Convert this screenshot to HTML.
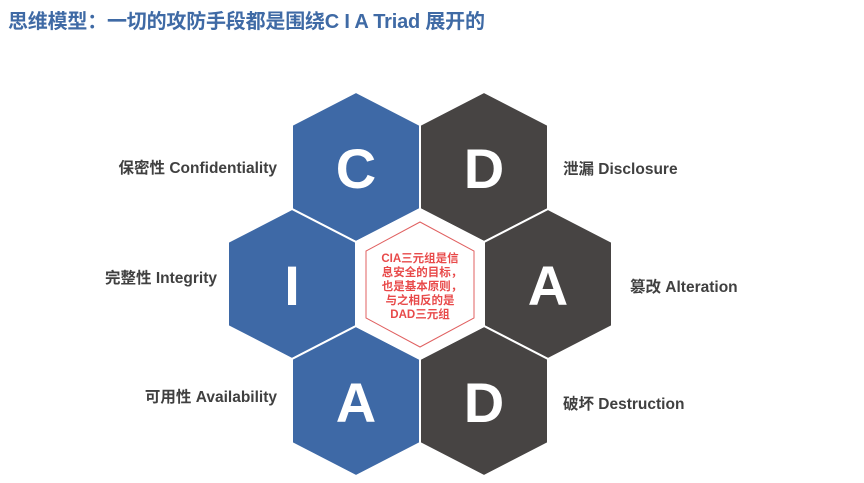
<!DOCTYPE html>
<html><head><meta charset="utf-8"><style>
body{margin:0;width:864px;height:483px;background:#fff;overflow:hidden;font-family:"Liberation Sans","Noto Sans CJK SC",sans-serif}
.t{position:absolute;left:8px;top:5px;font-size:20px;color:#3f6aa5;white-space:nowrap;letter-spacing:-0.2px;font-weight:bold}
svg{position:absolute;left:0;top:0}
</style></head><body>
<div class="t">思维模型：一切的攻防手段都是围绕C I A Triad 展开的</div>
<svg width="864" height="483" viewBox="0 0 864 483">
<defs>
<polygon id="h" points="0,-75 64,-42 64,42 0,75 -64,42 -64,-42"/>
</defs>
<g stroke="#fff" stroke-width="2">
<use href="#h" x="356" y="167" fill="#3e69a6"/>
<use href="#h" x="484" y="167" fill="#474443"/>
<use href="#h" x="292" y="284" fill="#3e69a6"/>
<use href="#h" x="548" y="284" fill="#474443"/>
<use href="#h" x="356" y="401" fill="#3e69a6"/>
<use href="#h" x="484" y="401" fill="#474443"/>
<use href="#h" x="420" y="284" fill="#fff"/>
</g>
<polygon points="420,222 474,251 474,318 420,347 366,318 366,251" fill="none" stroke="#e06060" stroke-width="1"/>
<g font-family="Liberation Sans" font-weight="bold" font-size="56" fill="#fff" text-anchor="middle">
<text x="356" y="188">C</text><text x="484" y="188">D</text>
<text x="292" y="305">I</text><text x="548" y="305">A</text>
<text x="356" y="422">A</text><text x="484" y="422">D</text>
</g>
<g font-family="Liberation Sans,Noto Sans CJK SC,sans-serif" font-weight="bold" font-size="11.5" fill="#e84a4a" text-anchor="middle">
<text x="420" y="262">CIA三元组是信</text>
<text x="422" y="276">息安全的目标，</text>
<text x="422" y="290">也是基本原则，</text>
<text x="420" y="304">与之相反的是</text>
<text x="420" y="318">DAD三元组</text>
</g>
<g font-family="Liberation Sans,Noto Sans CJK SC,sans-serif" font-size="15.5" font-weight="bold" fill="#404040">
<text x="277" y="173" text-anchor="end">保密性 Confidentiality</text>
<text x="217" y="283" text-anchor="end">完整性 Integrity</text>
<text x="277" y="402" text-anchor="end">可用性 Availability</text>
<text x="563" y="174">泄漏 Disclosure</text>
<text x="630" y="292">篡改 Alteration</text>
<text x="563" y="409">破坏 Destruction</text>
</g>
</svg>
</body></html>
